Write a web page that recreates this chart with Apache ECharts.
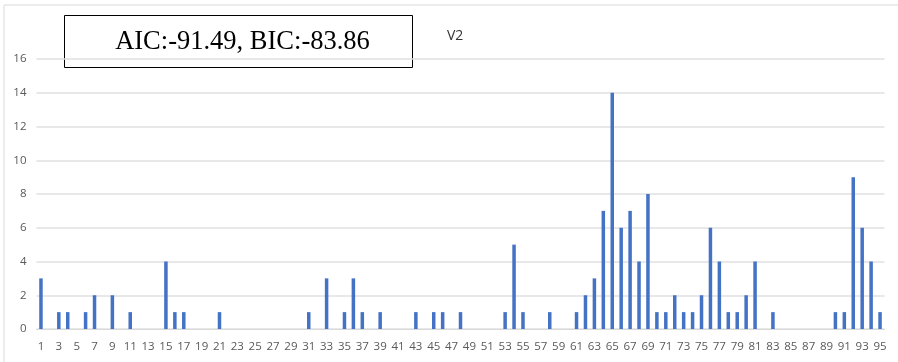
<!DOCTYPE html>
<html>
<head>
<meta charset="utf-8">
<script src="https://cdn.jsdelivr.net/npm/echarts@6/dist/echarts.min.js"></script>
<style>
  html, body { margin: 0; padding: 0; background: #ffffff; }
  #chart { width: 898px; height: 362px; }
</style>
</head>
<body>
<div id="chart"></div>
<script>
// Categories 1..95 along the x axis
const categories = [];
for (let i = 1; i <= 95; i++) categories.push(String(i));

// Non-zero counts by category; every other category is 0
const nonZero = {
  1: 3, 3: 1, 4: 1, 6: 1, 7: 2, 9: 2, 11: 1, 15: 4, 16: 1, 17: 1, 21: 1,
  31: 1, 33: 3, 35: 1, 36: 3, 37: 1, 39: 1, 43: 1, 45: 1, 46: 1, 48: 1,
  53: 1, 54: 5, 55: 1, 58: 1, 61: 1, 62: 2, 63: 3, 64: 7, 65: 14, 66: 6,
  67: 7, 68: 4, 69: 8, 70: 1, 71: 1, 72: 2, 73: 1, 74: 1, 75: 2, 76: 6,
  77: 4, 78: 1, 79: 1, 80: 2, 81: 4, 83: 1, 90: 1, 91: 1, 92: 9, 93: 6,
  94: 4, 95: 1
};
const values = categories.map(c => nonZero[c] || 0);

const titleText = 'V2';
const statsText = 'AIC:-91.49, BIC:-83.86';

const chart = echarts.init(document.getElementById('chart'), null, { renderer: 'canvas' });

chart.setOption({
  animation: false,
  backgroundColor: '#ffffff',
  title: {
    text: titleText,
    left: 442,
    top: 24,
    textStyle: { fontFamily: 'Open Sans', fontSize: 14, fontWeight: 'normal', color: '#333333' }
  },
  grid: { left: 36.5, right: 13.5, top: 59, bottom: 33 },
  xAxis: {
    type: 'category',
    data: categories,
    boundaryGap: true,
    axisTick: { show: false },
    axisLine: { lineStyle: { color: '#d9d9d9', width: 1 } },
    axisLabel: {
      interval: 1,
      margin: 12,
      color: '#595959',
      fontFamily: 'Open Sans',
      fontSize: 11.5
    }
  },
  yAxis: {
    type: 'value',
    min: 0,
    max: 16,
    interval: 2,
    axisLine: { show: false },
    axisTick: { show: false },
    splitLine: { lineStyle: { color: '#e0e0e0', width: 1.5 } },
    axisLabel: {
      margin: 10,
      color: '#595959',
      fontFamily: 'Open Sans',
      fontSize: 11.5
    }
  },
  series: [{
    type: 'bar',
    data: values,
    barWidth: 3.5,
    itemStyle: { color: '#4472c4' }
  }],
  graphic: [
    // light frame along the top and left edges
    { type: 'line', shape: { x1: 4, y1: 5, x2: 898, y2: 5 }, style: { stroke: '#e6e6e6', lineWidth: 1.5 }, z: 0 },
    { type: 'line', shape: { x1: 4, y1: 5, x2: 4, y2: 362 }, style: { stroke: '#e6e6e6', lineWidth: 1.5 }, z: 0 },
    // boxed fit statistics
    {
      type: 'group',
      left: 64,
      top: 15,
      z: 100,
      children: [
        { type: 'rect', shape: { x: 0, y: 0, width: 348, height: 52 }, style: { fill: '#ffffff', stroke: '#000000', lineWidth: 1 } },
        {
          type: 'text',
          x: 178, y: 27,
          style: {
            text: statsText,
            fontFamily: 'Liberation Serif',
            fontSize: 26.5,
            fill: '#000000',
            align: 'center',
            verticalAlign: 'middle'
          }
        }
      ]
    }
  ]
});
</script>
</body>
</html>
